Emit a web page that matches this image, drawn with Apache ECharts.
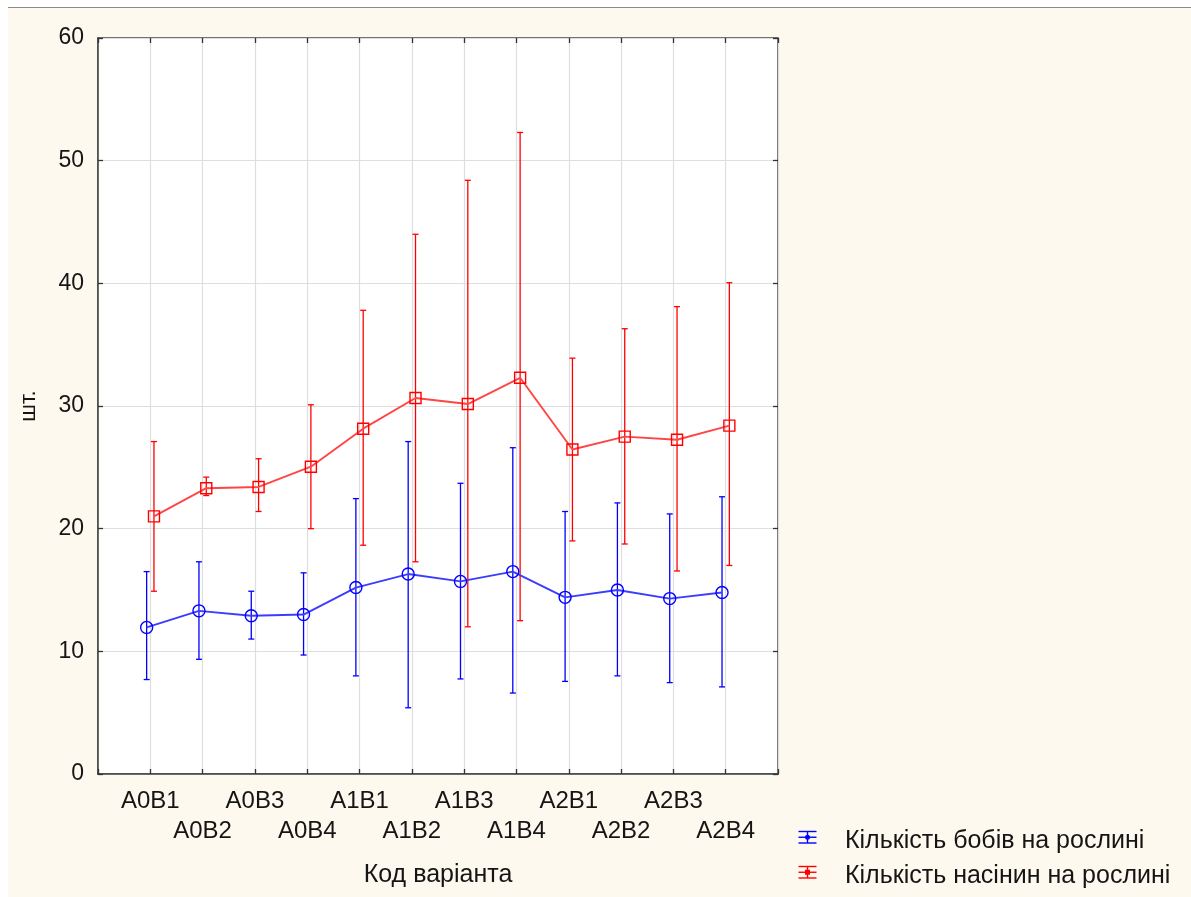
<!DOCTYPE html>
<html>
<head>
<meta charset="utf-8">
<script src="https://cdn.jsdelivr.net/npm/echarts@6/dist/echarts.min.js"></script>
<style>
html, body { margin: 0; padding: 0; background: #ffffff; }
#bg { position: absolute; left: 8px; top: 7px; width: 1183px; height: 890px; background: #fef9ee; border-top: 1px solid #8a8a8a; }
#chart { position: absolute; left: 0; top: 0; width: 1191px; height: 897px; }
</style>
</head>
<body>
<div id="bg"></div>
<div id="chart"></div>
<script>
// ---- data ----
const categories = ['A0B1','A0B2','A0B3','A0B4','A1B1','A1B2','A1B3','A1B4','A2B1','A2B2','A2B3','A2B4'];
const podsMean  = [11.95, 13.3, 12.9, 13.0, 15.2, 16.3, 15.7, 16.5, 14.4, 15.0, 14.3, 14.8];
const podsLow   = [7.7, 9.35, 11.0, 9.7, 8.0, 5.4, 7.75, 6.6, 7.55, 8.0, 7.45, 7.1];
const podsHigh  = [16.5, 17.3, 14.9, 16.4, 22.45, 27.1, 23.7, 26.6, 21.4, 22.1, 21.2, 22.6];
const seedsMean = [21.0, 23.3, 23.4, 25.05, 28.15, 30.65, 30.16, 32.3, 26.45, 27.5, 27.25, 28.4];
const seedsLow  = [14.9, 22.7, 21.4, 20.0, 18.65, 17.3, 12.0, 12.5, 19.0, 18.75, 16.55, 17.0];
const seedsHigh = [27.1, 24.2, 25.7, 30.1, 37.8, 44.0, 48.4, 52.3, 33.9, 36.3, 38.1, 40.05];
const yTicks = [0, 10, 20, 30, 40, 50, 60];
const seriesNames = ['Кількість бобів на рослині', 'Кількість насінин на рослині'];
const xTitle = 'Код варіанта';
const yTitle = 'шт.';

// ---- build ----
const FONT = 'Liberation Sans, Arial, sans-serif';
const TXT = '#151515';
const BLUE = '#0000ff', RED = '#ff0000';
const offB = -0.07, offR = 0.07;

function pts(mean, off) { return mean.map((v, i) => [i + 1 + off, v]); }
function bars(lo, hi, off) { return lo.map((v, i) => [i + 1 + off, v, hi[i]]); }

function errRender(color) {
  return function (params, api) {
    const x = api.value(0);
    const p1 = api.coord([x, api.value(1)]);
    const p2 = api.coord([x, api.value(2)]);
    const hw = 3;
    const st = { stroke: color, lineWidth: 1.3 };
    return {
      type: 'group',
      children: [
        { type: 'line', shape: { x1: p1[0], y1: p1[1], x2: p2[0], y2: p2[1] }, style: st },
        { type: 'line', shape: { x1: p1[0] - hw, y1: p1[1], x2: p1[0] + hw, y2: p1[1] }, style: st },
        { type: 'line', shape: { x1: p2[0] - hw, y1: p2[1], x2: p2[0] + hw, y2: p2[1] }, style: st }
      ]
    };
  };
}

function legendIcon(color, kind) {
  const st = { stroke: color, lineWidth: 1.4 };
  const c = [
    { type: 'line', shape: { x1: 0, y1: 0.5, x2: 18, y2: 0.5 }, style: st },
    { type: 'line', shape: { x1: 0, y1: 12, x2: 18, y2: 12 }, style: st },
    { type: 'line', shape: { x1: 9, y1: 0.5, x2: 9, y2: 12 }, style: st },
    { type: 'line', shape: { x1: 0, y1: 6.25, x2: 18, y2: 6.25 }, style: st }
  ];
  if (kind === 'circle') c.push({ type: 'circle', shape: { cx: 9, cy: 6.25, r: 2.5 }, style: { fill: color } });
  else c.push({ type: 'rect', shape: { x: 6.5, y: 3.75, width: 5, height: 5 }, style: { fill: color } });
  return c;
}

const chart = echarts.init(document.getElementById('chart'), null, { renderer: 'canvas' });

const gridLineStyle = { color: '#dedede', width: 1.2 };
const tickStyle = { show: true, inside: true, length: 5, lineStyle: { color: '#333', width: 1.3 } };
const option = {
  backgroundColor: 'transparent',
  animation: false,
  grid: { left: 98, right: 413, top: 38, bottom: 123, show: true, backgroundColor: '#ffffff', borderColor: '#444', borderWidth: 1.5 },
  xAxis: [{
    type: 'value', min: 0, max: 13, interval: 1, position: 'bottom',
    name: xTitle, nameLocation: 'middle', nameGap: 89,
    nameTextStyle: { fontFamily: FONT, fontSize: 25, color: TXT },
    axisLine: { show: true, onZero: false, lineStyle: { color: '#444', width: 1.5 } },
    axisTick: tickStyle,
    splitLine: { show: true, lineStyle: gridLineStyle },
    axisLabel: {
      fontFamily: FONT, fontSize: 24, color: TXT, margin: 12, lineHeight: 30,
      formatter: function (v) {
        const i = Math.round(v) - 1;
        if (i < 0 || i >= categories.length) return '';
        return i % 2 === 0 ? categories[i] + '\n ' : ' \n' + categories[i];
      }
    }
  }, {
    type: 'value', min: 0, max: 13, interval: 1, position: 'top',
    axisLine: { show: false, onZero: false }, axisLabel: { show: false }, splitLine: { show: false },
    axisTick: tickStyle
  }],
  yAxis: [{
    type: 'value', min: yTicks[0], max: yTicks[yTicks.length - 1], interval: 10, position: 'left',
    name: yTitle, nameLocation: 'middle', nameGap: 58, nameRotate: 90,
    nameTextStyle: { fontFamily: FONT, fontSize: 22, color: TXT },
    axisLine: { show: true, onZero: false, lineStyle: { color: '#444', width: 1.5 } },
    axisTick: tickStyle,
    splitLine: { show: true, lineStyle: gridLineStyle },
    axisLabel: { fontFamily: FONT, fontSize: 23, color: TXT, margin: 14 }
  }, {
    type: 'value', min: yTicks[0], max: yTicks[yTicks.length - 1], interval: 10, position: 'right',
    axisLine: { show: false, onZero: false }, axisLabel: { show: false }, splitLine: { show: false },
    axisTick: tickStyle
  }],
  series: [
    {
      name: seriesNames[0] + ' (похибка)', type: 'custom', xAxisIndex: 0, yAxisIndex: 0,
      renderItem: errRender(BLUE), data: bars(podsLow, podsHigh, offB), z: 2
    },
    {
      name: seriesNames[1] + ' (похибка)', type: 'custom', xAxisIndex: 0, yAxisIndex: 0,
      renderItem: errRender(RED), data: bars(seedsLow, seedsHigh, offR), z: 2
    },
    {
      name: seriesNames[0], type: 'line', data: pts(podsMean, offB), z: 3,
      symbol: 'circle', symbolSize: 12,
      lineStyle: { color: '#3c3cff', width: 1.9 },
      itemStyle: { color: 'rgba(255,255,255,0)', borderColor: BLUE, borderWidth: 1.4 }
    },
    {
      name: seriesNames[1], type: 'line', data: pts(seedsMean, offR), z: 3,
      symbol: 'rect', symbolSize: 11,
      lineStyle: { color: '#ff4545', width: 1.9 },
      itemStyle: { color: 'rgba(255,255,255,0)', borderColor: RED, borderWidth: 1.4 }
    }
  ],
  graphic: [
    { type: 'group', left: 796, top: 829, children: legendIcon(BLUE, 'circle') },
    { type: 'text', left: 845, top: 829, style: { text: seriesNames[0], fontFamily: FONT, fontSize: 25, fill: TXT } },
    { type: 'group', left: 796, top: 864, children: legendIcon(RED, 'rect') },
    { type: 'text', left: 845, top: 864, style: { text: seriesNames[1], fontFamily: FONT, fontSize: 25, fill: TXT } }
  ]
};

chart.setOption(option);
</script>
</body>
</html>
